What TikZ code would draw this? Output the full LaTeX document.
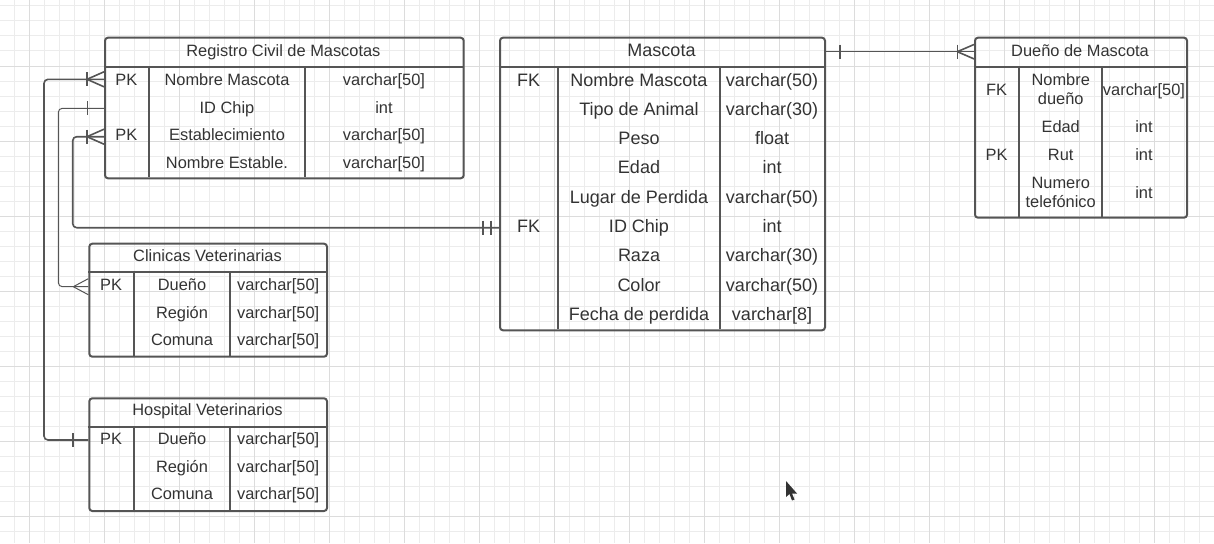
\documentclass[tikz,border=0pt]{standalone}
\usepackage{fontspec}
\setmainfont{Liberation Sans}
\usetikzlibrary{calc}

\definecolor{linegray}{HTML}{555555}
\definecolor{textgray}{HTML}{333333}
\definecolor{gridminor}{HTML}{ECECEC}
\definecolor{gridmajor}{HTML}{DCDCDC}

\begin{document}
\begin{tikzpicture}[x=1pt,y=-1pt,font=\fontsize{16.4}{19.4}\selectfont,text=textgray]
    \tikzstyle{table}=[draw=linegray,line width=2pt,rounded corners=3pt,inner sep=0pt,anchor=north west]
    \tikzstyle{cell}=[inner sep=0pt,text height=11.7pt,text depth=0pt]
    \tikzstyle{big cell}=[cell,text height=12.9pt,font=\fontsize{18}{21}\selectfont]
    \tikzstyle{two line}=[inner sep=0pt,align=center]
    \tikzstyle{rule}=[draw=linegray,line width=2pt]
    \tikzstyle{link}=[draw=linegray,line width=1.6pt,rounded corners=4pt]
    \tikzstyle{thin link}=[link,line width=1pt]
    \tikzstyle{end tick}=[draw=linegray,line width=1.6pt]
    \tikzstyle{thin tick}=[end tick,line width=1pt]

    \useasboundingbox (0,0) rectangle (1214,543);

    % grid
    \foreach \i in {0,...,80} \draw[gridminor,line width=1pt] ({14.5+15*\i},0) -- ++(0,543);
    \foreach \j in {0,...,36} \draw[gridminor,line width=1pt] (0,{6+15*\j}) -- ++(1214,0);
    \foreach \i in {0,...,16} \draw[gridmajor,line width=1pt] ({29.5+75*\i},0) -- ++(0,543);
    \foreach \j in {0,...,6} \draw[gridmajor,line width=1pt] (0,{66+75*\j}) -- ++(1214,0);

    % Registro Civil de Mascotas
    \node[table,minimum width=358.7pt,minimum height=140.6pt] (reg) at (104,36.7) {};
    \draw[rule] (104,66.7) -- (462.7,66.7);
    \draw[rule] (148.7,66.7) -- (148.7,177.3);
    \draw[rule] (305.3,66.7) -- (305.3,177.3);
    \node[cell] (reg-title) at (283.4,51) {Registro Civil de Mascotas};
    \node[cell] (reg-k1) at (126.3,79.3) {PK};
    \node[cell] (reg-n1) at (227,79.3) {Nombre Mascota};
    \node[cell] (reg-t1) at (384,79.3) {varchar[50]};
    \node[cell] (reg-n2) at (227,107.3) {ID Chip};
    \node[cell] (reg-t2) at (384,107.3) {int};
    \node[cell] (reg-k3) at (126.3,135) {PK};
    \node[cell] (reg-n3) at (227,135) {Establecimiento};
    \node[cell] (reg-t3) at (384,135) {varchar[50]};
    \node[cell] (reg-n4) at (227,162.4) {Nombre Estable.};
    \node[cell] (reg-t4) at (384,162.4) {varchar[50]};

    % Clinicas Veterinarias
    \node[table,minimum width=237.7pt,minimum height=113pt] (cli) at (88.3,242.7) {};
    \draw[rule] (88.3,272.3) -- (326,272.3);
    \draw[rule] (133.7,272.3) -- (133.7,355.7);
    \draw[rule] (230,272.3) -- (230,355.7);
    \node[cell] (cli-title) at (207.5,256) {Clinicas Veterinarias};
    \node[cell] (cli-k1) at (111,285) {PK};
    \node[cell] (cli-n1) at (182,285) {Dueño};
    \node[cell] (cli-t1) at (278.2,285) {varchar[50]};
    \node[cell] (cli-n2) at (182,312.7) {Región};
    \node[cell] (cli-t2) at (278.2,312.7) {varchar[50]};
    \node[cell] (cli-n3) at (182,340) {Comuna};
    \node[cell] (cli-t3) at (278.2,340) {varchar[50]};

    % Hospital Veterinarios
    \node[table,minimum width=237.7pt,minimum height=112.7pt] (hos) at (88.3,397.3) {};
    \draw[rule] (88.3,426.7) -- (326,426.7);
    \draw[rule] (133.7,426.7) -- (133.7,510);
    \draw[rule] (230,426.7) -- (230,510);
    \node[cell] (hos-title) at (207.5,410) {Hospital Veterinarios};
    \node[cell] (hos-k1) at (111,439) {PK};
    \node[cell] (hos-n1) at (182,439) {Dueño};
    \node[cell] (hos-t1) at (278.2,439) {varchar[50]};
    \node[cell] (hos-n2) at (182,466.7) {Región};
    \node[cell] (hos-t2) at (278.2,466.7) {varchar[50]};
    \node[cell] (hos-n3) at (182,494) {Comuna};
    \node[cell] (hos-t3) at (278.2,494) {varchar[50]};

    % Mascota
    \node[table,minimum width=325pt,minimum height=292.6pt] (mas) at (499,36.7) {};
    \draw[rule] (499,66.7) -- (824,66.7);
    \draw[rule] (558.3,66.7) -- (558.3,329.3);
    \draw[rule] (720,66.7) -- (720,329.3);
    \node[big cell] (mas-title) at (661.5,50) {Mascota};
    \node[big cell] (mas-k1) at (528.7,80) {FK};
    \node[big cell] (mas-n1) at (639,80) {Nombre Mascota};
    \node[big cell] (mas-t1) at (772,80) {varchar(50)};
    \node[big cell] (mas-n2) at (639,109.3) {Tipo de Animal};
    \node[big cell] (mas-t2) at (772,109.3) {varchar(30)};
    \node[big cell] (mas-n3) at (639,138.4) {Peso};
    \node[big cell] (mas-t3) at (772,138.4) {float};
    \node[big cell] (mas-n4) at (639,167.5) {Edad};
    \node[big cell] (mas-t4) at (772,167.5) {int};
    \node[big cell] (mas-n5) at (639,196.7) {Lugar de Perdida};
    \node[big cell] (mas-t5) at (772,196.7) {varchar(50)};
    \node[big cell] (mas-k6) at (528.7,226) {FK};
    \node[big cell] (mas-n6) at (639,226) {ID Chip};
    \node[big cell] (mas-t6) at (772,226) {int};
    \node[big cell] (mas-n7) at (639,255.2) {Raza};
    \node[big cell] (mas-t7) at (772,255.2) {varchar(30)};
    \node[big cell] (mas-n8) at (639,284.6) {Color};
    \node[big cell] (mas-t8) at (772,284.6) {varchar(50)};
    \node[big cell] (mas-n9) at (639,314) {Fecha de perdida};
    \node[big cell] (mas-t9) at (772,314) {varchar[8]};

    % Dueño de Mascota
    \node[table,minimum width=212pt,minimum height=180pt] (due) at (974,36.7) {};
    \draw[rule] (974,66.7) -- (1186,66.7);
    \draw[rule] (1019,66.7) -- (1019,216.7);
    \draw[rule] (1102.3,66.7) -- (1102.3,216.7);
    \node[cell] (due-title) at (1080,50.5) {Dueño de Mascota};
    \node[cell] (due-k1) at (996.5,90) {FK};
    \node[two line] (due-n1) at (1060.7,89) {Nombre\\dueño};
    \node[cell] (due-t1) at (1144,90) {varchar[50]};
    \node[cell] (due-n2) at (1060.7,126.2) {Edad};
    \node[cell] (due-t2) at (1144,126.2) {int};
    \node[cell] (due-k3) at (996.5,154.5) {PK};
    \node[cell] (due-n3) at (1060.7,154.5) {Rut};
    \node[cell] (due-t3) at (1144,154.5) {int};
    \node[two line] (due-n4) at (1060.7,192.5) {Numero\\telefónico};
    \node[cell] (due-t4) at (1144,192.5) {int};

    % connector ends
    \coordinate (reg-a) at (104,79.3);
    \coordinate (reg-b) at (104,108.3);
    \coordinate (reg-c) at (104,136.7);
    \coordinate (hos-a) at (88.3,440);
    \coordinate (cli-a) at (88.3,286.7);
    \coordinate (mas-a) at (499,227.7);
    \coordinate (mas-b) at (824,51.7);
    \coordinate (due-a) at (974,51.7);

    % relationships
    \draw[link] (reg-a) -- ++(-60,0) |- (hos-a);
    \draw[thin link] (reg-b) -- ++(-45.7,0) |- (cli-a);
    \draw[link] (reg-c) -- ++(-31.3,0) |- (mas-a);
    \draw[link] (mas-b) -- (due-a);

    % crow's feet and bars
    \draw[end tick] (reg-a) ++(-17,0) -- ++(17,-7.5) ++(-17,7.5) -- ++(17,7.5);
    \draw[end tick] (reg-a) ++(-17,-7) -- ++(0,14);
    \draw[thin tick] (reg-b) ++(-16.7,-7) -- ++(0,14);
    \draw[end tick] (reg-c) ++(-17,0) -- ++(17,-7.5) ++(-17,7.5) -- ++(17,7.5);
    \draw[end tick] (reg-c) ++(-17,-7) -- ++(0,14);
    \draw[end tick] (hos-a) ++(-15.6,-7) -- ++(0,14);
    \draw[thin tick] (cli-a) ++(-15,0) -- ++(15,-8) ++(-15,8) -- ++(15,8);
    \draw[end tick] (mas-a) ++(-16.3,-7) -- ++(0,14);
    \draw[end tick] (mas-a) ++(-8,-7) -- ++(0,14);
    \draw[end tick] (mas-b) ++(16,-7) -- ++(0,14);
    \draw[end tick] (due-a) ++(-16.7,0) -- ++(16.7,-7.2) ++(-16.7,7.2) -- ++(16.7,7.2);
    \draw[end tick] (due-a) ++(-16.7,-7) -- ++(0,14);

    % cursor
    \fill[textgray] (786,481) -- (786,497) -- (789.5,494) -- (792,500.5) -- (794.5,499.5) -- (792,493.5) -- (797,493.5) -- cycle;
\end{tikzpicture}
\end{document}
